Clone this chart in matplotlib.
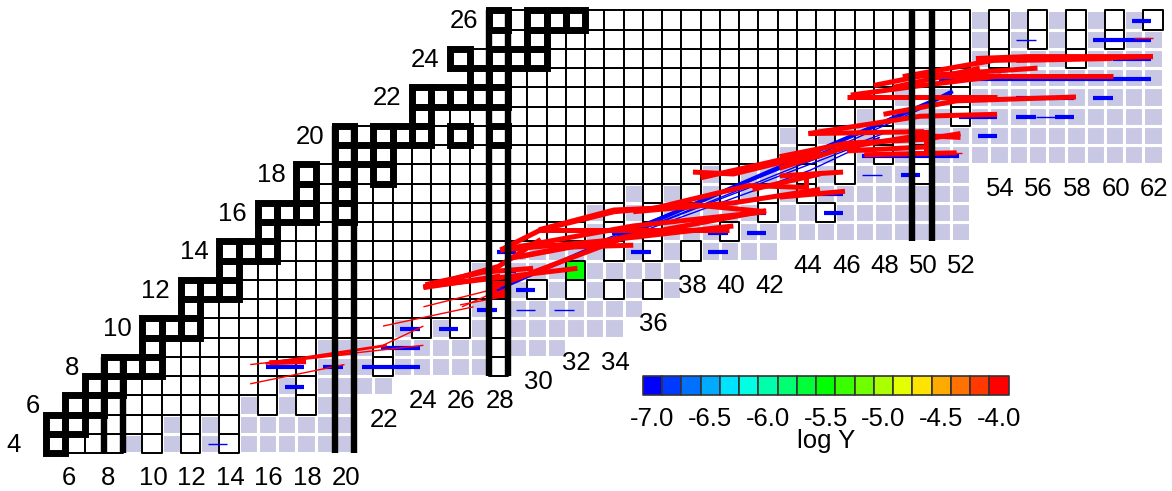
import numpy as np
import matplotlib
matplotlib.use("Agg")
import matplotlib.pyplot as plt
from matplotlib.patches import Rectangle
from matplotlib.collections import PatchCollection, LineCollection
from matplotlib.colors import hsv_to_rgb, ListedColormap, BoundaryNorm

plt.rcParams['font.family'] = ['Liberation Sans', 'DejaVu Sans']

# one entry per row of the chart (proton number Z = 4 .. 26)
Z_ROWS = list(range(4, 27))
FIRST_N = [5, 5, 6, 7, 8, 10, 10, 12, 12, 14, 14, 16, 16, 18, 18, 20, 20, 24, 24, 27, 26, 28, 28]
LAV_START = [9, 11, 15, 17, 19, 19, 23, 27, 29, 27, 29, 33, 33, 35, 39, 43, 43, 47, 49, 53, 53, 53, 53]
LAST_N = [20, 20, 20, 22, 28, 31, 34, 35, 37, 37, 42, 52, 52, 52, 52, 62, 62, 62, 62, 62, 62, 62, 62]
WHITE_EXTRA = [[10, 12, 14], [12, 14], [16, 18], [18], [22, 28], [22, 28], [24, 26, 28], [28],
               [30, 32, 34, 36], [28], [34, 36, 38], [34, 36, 40], [34, 36, 42, 45],
               [36, 38, 40, 42, 44], [40, 44, 46, 50], [44, 46, 48, 50], [44, 46, 48], [48, 52],
               [50, 52], [], [54, 58], [54, 56, 58, 60], [54, 56, 58, 60, 62]]
STABLE = [[5], [5, 6], [6, 7], [7, 8], [8, 9, 10], [10], [10, 11, 12], [12], [12, 13, 14], [14],
          [14, 15, 16], [16], [16, 17, 18, 20], [18, 20], [18, 20, 22], [20, 21, 22],
          [20, 22, 23, 24, 26, 28], [24], [24, 25, 26, 27, 28], [27, 28], [26, 28, 29, 30], [30],
          [28, 30, 31, 32]]
MAGIC_N = [8, 20, 28, 50]

# cells coloured by abundance
COL_N = [28, 32]
COL_Z = [12, 13]
COL_LOGY = [-4.0, -5.5]

# neutron capture flows (N -> N+1 at fixed Z)
BLUE_N = [16, 17, 17, 19, 21, 22, 23, 22, 23, 23, 25, 27, 29, 28, 28, 35, 39, 34, 39, 41, 41, 45,
          44, 45, 49, 47, 48, 49, 50, 51, 51, 53, 52, 53, 55, 57, 52, 53, 55, 56, 57, 59,
          51, 52, 53, 54, 55, 56, 57, 58, 59, 60, 61, 60, 61, 59, 60, 61, 61]
BLUE_Z = [8, 8, 7, 8, 8, 8, 8, 9, 9, 10, 10, 11, 12, 13, 14, 14, 14, 15, 15, 15, 16, 16,
          17, 17, 18, 19, 19, 19, 19, 19, 20, 20, 21, 21, 21, 21, 22, 22, 22, 22, 22, 22,
          23, 23, 23, 23, 23, 23, 23, 23, 23, 23, 23, 24, 24, 25, 25, 25, 26]
THIN_N = [13, 29, 31, 47, 56, 55]
THIN_Z = [4, 11, 11, 18, 21, 25]

BLUE_MAIN = [[(27.9, 12.0), (50.8, 21.9), (51.6, 22.3)]]
BLUE_THIN = [[(28.0, 12.1), (44.0, 18.6), (48.0, 20.1)],
             [(29.5, 12.8), (42.6, 17.9), (47.8, 19.9)],
             [(31.0, 13.4), (44.2, 18.2), (47.8, 19.9)],
             [(33.0, 14.4), (46.0, 19.6), (50.0, 21.4)]]

RED_THIN = [[(15.1, 8.1), (24.1, 9.1)], [(15.1, 7.1), (20.0, 8.1)], [(22.0, 9.1), (24.1, 10.1)],
            [(22.0, 10.1), (26.7, 11.1)], [(24.1, 11.1), (28.1, 12.1)], [(26.1, 11.1), (27.9, 11.9)],
            [(26.0, 11.2), (28.1, 11.6)], [(61.0, 25.05), (62.0, 25.05)], [(51.0, 19.07), (52.1, 19.07)]]
RED_MED = [[(15.9, 8.15), (22.2, 9.1)], [(16.5, 8.25), (20.5, 8.7)]]
RED_BOLD = [
    [(16.1, 8.2), (18.0, 8.25)],
    [(24.1, 12.1), (28.1, 12.7)],
    [(24.1, 12.15), (32.1, 13.1)],
    [(24.2, 12.25), (27.2, 12.9), (29.8, 13.1)],
    [(24.1, 12.1), (28.0, 13.2), (30.2, 14.6)],
    [(27.7, 12.1), (34.3, 14.6)],
    [(28.1, 14.05), (30.2, 15.1), (34.0, 16.04)],
    [(28.1, 14.05), (34.3, 14.6)],
    [(28.1, 14.05), (35.0, 15.3), (41.9, 16.04)],
    [(30.1, 15.1), (40.0, 15.1)],
    [(30.1, 15.1), (34.0, 16.13), (38.1, 16.3)],
    [(29.1, 13.7), (41.9, 16.1)],
    [(34.0, 14.6), (40.2, 15.3)],
    [(28.5, 13.6), (31.5, 14.2), (35.0, 14.3)],
    [(34.0, 16.04), (38.1, 16.4), (41.9, 16.04)],
    [(35.0, 16.04), (40.2, 16.5), (44.7, 17.2)],
    [(38.1, 18.1), (40.2, 18.0), (44.7, 19.1)],
    [(38.5, 17.8), (44.7, 19.2)],
    [(41.2, 17.2), (44.7, 18.0)],
    [(42.6, 16.8), (46.0, 17.1)],
    [(42.6, 17.9), (45.9, 18.1)],
    [(36.0, 16.2), (41.0, 17.4), (44.0, 17.3)],
    [(44.0, 17.2), (44.0, 18.0)],
    [(42.6, 18.3), (46.1, 19.4), (49.9, 20.0), (52.0, 19.9)],
    [(42.6, 18.9), (46.1, 19.6), (50.1, 19.8), (52.0, 20.1)],
    [(46.1, 19.2), (50.1, 19.4)],
    [(47.0, 19.0), (51.8, 19.1)],
    [(44.1, 20.1), (49.9, 21.0), (53.9, 21.1)],
    [(44.1, 20.1), (50.1, 20.2)],
    [(48.0, 21.1), (51.8, 21.8), (58.0, 22.0)],
    [(46.1, 22.0), (53.9, 22.0)],
    [(49.5, 19.1), (50.2, 19.1), (50.2, 20.2), (49.6, 20.2)],
    [(49.0, 23.06), (53.7, 23.9), (62.0, 24.1)],
    [(50.9, 23.1), (59.9, 23.1)],
    [(52.8, 24.0), (55.5, 24.1), (62.0, 24.1)],
    [(54.9, 23.9), (59.9, 24.0)],
    [(48.5, 22.5), (53.0, 23.5)],
    [(46.3, 22.1), (50.0, 22.6), (54.1, 23.1)],
    [(47.5, 22.6), (50.0, 23.1), (56.0, 23.5)],
]

N_LABELS = list(range(6, 63, 2))
Z_LABELS = list(range(4, 27, 2))
CB_TICKS = [-7.0, -6.5, -6.0, -5.5, -5.0, -4.5, -4.0]

LAV = '#c8c8e4'
bins = np.linspace(-7.0, -4.0, 19)
cmap = ListedColormap(hsv_to_rgb([[h, 1.0, 1.0] for h in np.linspace(240, 0, 19) / 360.0]))
norm = BoundaryNorm(np.append(bins - 1 / 12, -4.0 + 1 / 12), cmap.N)

fig = plt.figure(figsize=(11.72, 4.91), dpi=100)
ax = fig.add_axes([0, 0, 1, 1])
ax.set_xlim(2.104, 62.987)
ax.set_ylim(1.532, 27.039)
ax.axis('off')

# grid of nuclei
lav_cells, white_cells = [], []
for z, n0, nl, n1, extra in zip(Z_ROWS, FIRST_N, LAV_START, LAST_N, WHITE_EXTRA):
    for n in range(n0, n1 + 1):
        r = Rectangle((n - 0.5, z - 0.5), 1, 1)
        if n < nl or n in extra:
            white_cells.append(r)
        else:
            lav_cells.append(r)
ax.add_collection(PatchCollection(lav_cells, facecolor=LAV, edgecolor='white', linewidth=2.2, zorder=1))
ax.add_collection(PatchCollection(white_cells, facecolor='white', edgecolor='black', linewidth=1.4, zorder=2))

col = [Rectangle((n - 0.5, z - 0.5), 1, 1) for n, z in zip(COL_N, COL_Z)]
ax.add_collection(PatchCollection(col, facecolor=cmap(norm(COL_LOGY)), edgecolor='black',
                                  linewidth=1.4, zorder=2.5))

stab = [Rectangle((n - 0.5, z - 0.5), 1, 1) for z, ns in zip(Z_ROWS, STABLE) for n in ns]
ax.add_collection(PatchCollection(stab, facecolor='none', edgecolor='black', linewidth=5.0,
                                  joinstyle='miter', zorder=3))

# flows
segs = [[(n - 0.1, z - 0.05), (n + 0.9, z - 0.05)] for n, z in zip(BLUE_N, BLUE_Z)]
ax.add_collection(LineCollection(segs, colors='blue', linewidths=3.0, capstyle='butt', zorder=4))
segs = [[(n - 0.1, z - 0.05), (n + 0.9, z - 0.05)] for n, z in zip(THIN_N, THIN_Z)]
ax.add_collection(LineCollection(segs, colors='blue', linewidths=1.0, capstyle='butt', zorder=4))
ax.add_collection(LineCollection(BLUE_THIN, colors='blue', linewidths=1.0, zorder=4))
ax.add_collection(LineCollection(BLUE_MAIN, colors='blue', linewidths=3.0, zorder=4))
ax.add_collection(LineCollection(RED_THIN, colors='red', linewidths=1.0, zorder=5))
ax.add_collection(LineCollection(RED_MED, colors='red', linewidths=2.0, zorder=5))
ax.add_collection(LineCollection(RED_BOLD, colors='red', linewidths=3.6, capstyle='butt',
                                 joinstyle='miter', zorder=5))

# magic numbers
for m in MAGIC_N:
    zs = [z for z, a, b in zip(Z_ROWS, FIRST_N, LAST_N) if a <= m <= b]
    ax.vlines([m - 0.5, m + 0.5], min(zs) - 0.5, max(zs) + 0.5, colors='black', linewidth=4.6, zorder=7)

# labels
for n in N_LABELS:
    bottom = min(z for z, a, b in zip(Z_ROWS, FIRST_N, LAST_N) if a <= n <= b)
    ax.text(n - 0.68, bottom - 2.16, str(n), ha='left', va='baseline', fontsize=18.5)
for z in Z_LABELS:
    n0 = FIRST_N[Z_ROWS.index(z)]
    ax.text(n0 - 2.55, z - 0.44, str(z), ha='left', va='baseline', fontsize=18.5)

# colour scale
cb = [Rectangle((36 + i - 0.5, 6.5), 1, 1) for i in range(len(bins))]
ax.add_collection(PatchCollection(cb, facecolor=cmap(norm(bins)), edgecolor='#333333', linewidth=1.2, zorder=2))
for t in CB_TICKS:
    ax.text(36 + (t + 7.0) * 6, 4.92, '%.1f' % t, ha='center', va='baseline', fontsize=18.5)
ax.text(45, 3.78, 'log Y', ha='center', va='baseline', fontsize=18.5)

fig.savefig('out.png', dpi=100)
